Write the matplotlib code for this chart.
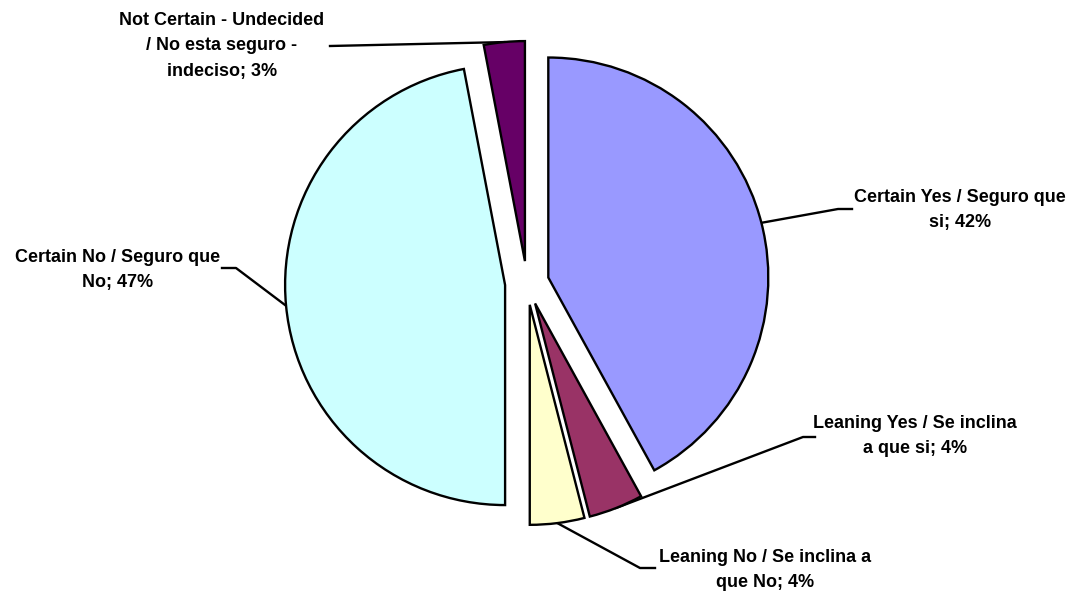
import numpy as np
import matplotlib.pyplot as plt

plt.rcParams['font.family'] = ['Liberation Sans', 'DejaVu Sans']

# data
categories = ['Certain Yes / Seguro que\nsi', 'Leaning Yes / Se inclina\na que si',
              'Leaning No / Se inclina a\nque No', 'Certain No / Seguro que\nNo',
              'Not Certain - Undecided\n/ No esta seguro -\nindeciso']
values = [42, 4, 4, 47, 3]
colors = ['#9999FF', '#993366', '#FFFFCC', '#CCFFFF', '#660066']

# label layout in image pixels: text centre, elbow, end of short horizontal tick
text_pos = [(960, 210), (915, 436), (765, 570), (118, 270), (222, 46)]
elbow_pos = [(838, 209), (803, 437), (640, 568), (236, 268), (330, 46)]
tick_end = [(852, 209), (815, 437), (655, 568), (222, 268), (330, 46)]

W, H = 1076, 593
fig = plt.figure(figsize=(W / 100, H / 100), dpi=100)
ax = fig.add_axes([0, 0, 1, 1])

R = 220
# explode is in data units here (pixels)
wedges, _ = ax.pie(values, startangle=90, counterclock=False, colors=colors,
                   explode=[22] * len(values), radius=R, center=(527, H - 283),
                   wedgeprops=dict(edgecolor='black', linewidth=1.7))

for w, lab, v, tp, ep, te in zip(wedges, categories, values, text_pos, elbow_pos, tick_end):
    mid = np.deg2rad((w.theta1 + w.theta2) / 2)
    cx, cy = w.center
    ax_x = cx + w.r * np.cos(mid)
    ax_y = cy + w.r * np.sin(mid)
    ax.plot([ax_x, ep[0], te[0]], [ax_y, H - ep[1], H - te[1]], color='black',
            lw=1.7, zorder=0)
    ax.text(tp[0], H - tp[1], f'{lab}; {v}%', ha='center', va='center',
            multialignment='center', fontsize=13, fontweight='bold', linespacing=1.65)

ax.set_xlim(0, W)
ax.set_ylim(0, H)
ax.set_aspect('equal')
ax.axis('off')

fig.savefig('out.png', dpi=100)
